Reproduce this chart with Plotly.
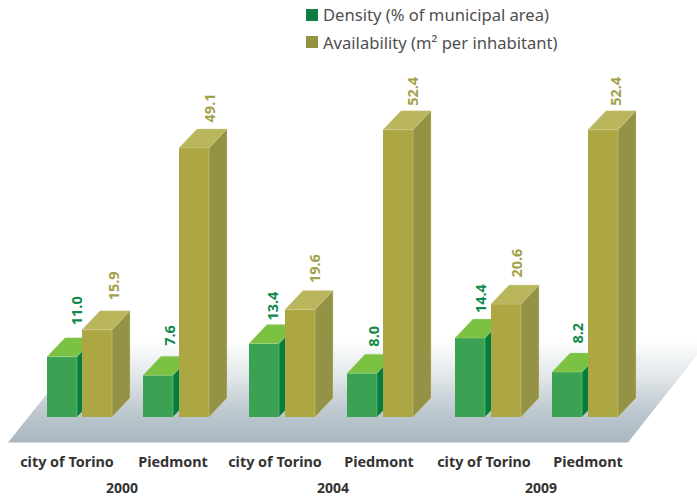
import plotly.graph_objects as go

# ---- data ----
years = ["2000", "2004", "2009"]
places = ["city of Torino", "Piedmont", "city of Torino", "Piedmont", "city of Torino", "Piedmont"]
density = [11.0, 7.6, 13.4, 8.0, 14.4, 8.2]
availability = [15.9, 49.1, 19.6, 52.4, 20.6, 52.4]
density_name = "Density (% of municipal area)"
availability_name = "Availability (m² per inhabitant)"

# ---- layout constants (x axis is in screen pixels) ----
W, H = 697, 498
PLOT_BOTTOM = 452
BASE_PX = 417
PX_PER_UNIT = 5.48
DEPTH_X, DEPTH_PX = 18, 19
DEPTH_Y = DEPTH_PX / PX_PER_UNIT
BAR_W = 30
density_left = [47, 143, 249, 347, 455, 552]
avail_left = [82, 179, 285, 383, 491, 588]
place_tick_x = [67, 173, 275, 379, 484, 588]
year_x = [122, 333, 541]
# label placement relative to bar left edge / top
density_lab_dx = [29, 26, 23, 26, 25, 25]
density_lab_gap = [13, 11, 5, 8, 7, 10]
avail_lab_dx = [31, 30, 29, 29, 25, 27]
avail_lab_gap = [11, 7, 8, 6, 8, 6]

Y0 = -(PLOT_BOTTOM - BASE_PX) / PX_PER_UNIT
Y1 = BASE_PX / PX_PER_UNIT


def py(p):
    return (BASE_PX - p) / PX_PER_UNIT


def paper_y(p):
    return (PLOT_BOTTOM - p) / PLOT_BOTTOM


FONT = "Noto Sans"
fig = go.Figure()

# floor
fx = [8, 628, 697, 697, 90]
fy = [py(442.5), py(442.5), py(355), py(340), py(340)]
fig.add_trace(go.Scatter(
    x=fx + fx[:1], y=fy + fy[:1], mode="lines", fill="toself",
    line=dict(width=0, color="rgba(0,0,0,0)"),
    fillgradient=dict(type="vertical", start=py(442.5), stop=py(340),
                      colorscale=[[0, "#a9b7c0"], [0.3, "#bdc8cf"], [0.65, "#e2e7ea"], [1, "#ffffff"]]),
    showlegend=False, hoverinfo="skip"))


def draw_series(values, lefts, front, side, top, xa, ya, edge):
    fig.add_trace(go.Bar(
        x=[l + BAR_W / 2 for l in lefts], y=values, width=BAR_W,
        marker=dict(color=front, line=dict(width=0)),
        showlegend=False, hoverinfo="skip", xaxis=xa, yaxis=ya))
    for v, l in zip(values, lefts):
        r = l + BAR_W
        fig.add_trace(go.Scatter(
            x=[l, l + DEPTH_X, r + DEPTH_X, r, l],
            y=[v, v + DEPTH_Y, v + DEPTH_Y, v, v],
            mode="lines", fill="toself", fillcolor=top,
            line=dict(width=0.6, color=edge),
            showlegend=False, hoverinfo="skip", xaxis=xa, yaxis=ya))
        fig.add_trace(go.Scatter(
            x=[r, r + DEPTH_X, r + DEPTH_X, r, r],
            y=[0, DEPTH_Y, v + DEPTH_Y, v, 0],
            mode="lines", fill="toself", fillcolor=side,
            line=dict(width=0.6, color=edge),
            showlegend=False, hoverinfo="skip", xaxis=xa, yaxis=ya))


draw_series(density, density_left, "#3aa252", "#057d3e", "#7cc242", "x2", "y2", "rgba(190,220,150,0.6)")
draw_series(availability, avail_left, "#aca643", "#949345", "#b9b65b", "x3", "y3", "rgba(215,215,160,0.7)")

annotations = []
for vals, lefts, dxs, gaps, col in [
    (density, density_left, density_lab_dx, density_lab_gap, "#0f8a4a"),
    (availability, avail_left, avail_lab_dx, avail_lab_gap, "#a3a14a"),
]:
    for v, l, dx, gap in zip(vals, lefts, dxs, gaps):
        annotations.append(dict(
            x=l + dx, y=v + DEPTH_Y, xref="x", yref="y", text=f"{v:.1f}", textangle=-90,
            showarrow=False, xanchor="center", yanchor="bottom", yshift=gap - 3,
            font=dict(family=FONT, size=14.5, color=col, weight="bold")))
for yr, x in zip(years, year_x):
    annotations.append(dict(
        x=x, y=paper_y(488), xref="x", yref="paper", text=yr, showarrow=False,
        xanchor="center", yanchor="middle",
        font=dict(family=FONT, size=14, color="#333333", weight="bold")))

# legend keys and labels
shapes = []
for name, col, top_px in [(density_name, "#0f7d41", 9), (availability_name, "#949341", 36)]:
    shapes.append(dict(type="rect", xref="x", yref="paper", x0=306, x1=318,
                       y0=paper_y(top_px + 12), y1=paper_y(top_px),
                       fillcolor=col, line=dict(width=0)))
    annotations.append(dict(
        x=323, y=paper_y(top_px + 6), xref="x", yref="paper", text=name, showarrow=False,
        xanchor="left", yanchor="middle", xshift=-2,
        font=dict(family=FONT, size=16.6, color="#4f4f4f")))

hidden = dict(visible=False, fixedrange=True)
fig.update_layout(
    width=W, height=H, margin=dict(l=0, r=0, t=0, b=H - PLOT_BOTTOM),
    paper_bgcolor="white", plot_bgcolor="rgba(0,0,0,0)", barmode="overlay",
    annotations=annotations, shapes=shapes, showlegend=False,
    xaxis=dict(range=[0, W], tickmode="array", tickvals=place_tick_x, ticktext=places,
               ticks="", showgrid=False, zeroline=False, showline=False,
               tickfont=dict(family=FONT, size=14.4, color="#333333", weight="bold")),
    yaxis=dict(range=[Y0, Y1], visible=False),
    xaxis2=dict(range=[0, W], overlaying="x", **hidden),
    yaxis2=dict(range=[Y0, Y1], overlaying="y", **hidden),
    xaxis3=dict(range=[0, W], overlaying="x", **hidden),
    yaxis3=dict(range=[Y0, Y1], overlaying="y", **hidden),
)

fig.write_html("out.html", config={"displayModeBar": False},
               post_script="document.body.style.margin='0';document.body.style.overflow='hidden';")
